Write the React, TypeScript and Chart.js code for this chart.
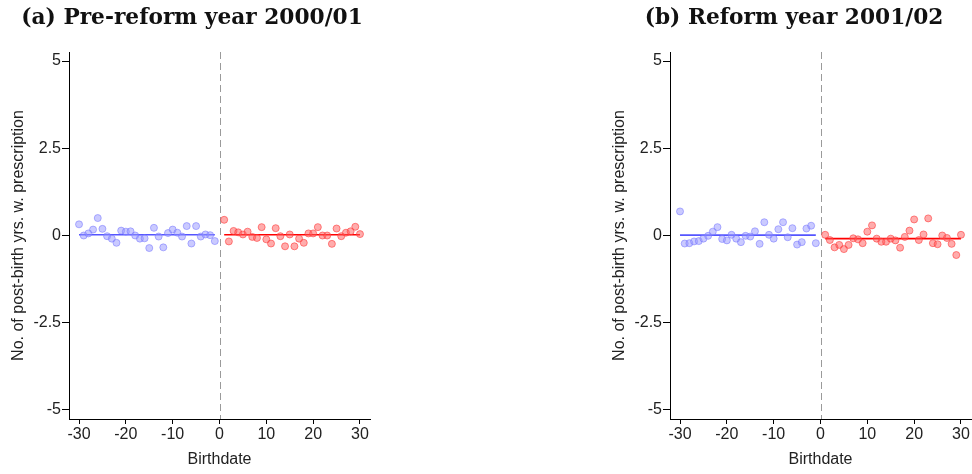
import React, { useEffect, useRef } from "react";
import { Chart, registerables } from "chart.js";

Chart.register(...registerables);

// ---------- data ----------
const birthdatesBefore = [
  -30, -29, -28, -27, -26, -25, -24, -23, -22, -21, -20, -19, -18, -17, -16,
  -15, -14, -13, -12, -11, -10, -9, -8, -7, -6, -5, -4, -3, -2, -1,
];
const birthdatesAfter = [
  1, 2, 3, 4, 5, 6, 7, 8, 9, 10, 11, 12, 13, 14, 15, 16, 17, 18, 19, 20, 21,
  22, 23, 24, 25, 26, 27, 28, 29, 30,
];

const preReformBefore = [
  0.32, 0.0, 0.06, 0.17, 0.5, 0.19, -0.02, -0.09, -0.21, 0.14, 0.11, 0.12, 0.0,
  -0.09, -0.08, -0.36, 0.22, -0.03, -0.34, 0.07, 0.17, 0.08, -0.03, 0.27, -0.23,
  0.27, -0.03, 0.03, 0.01, -0.16,
];
const preReformAfter = [
  0.45, -0.17, 0.13, 0.09, 0.03, 0.11, -0.04, -0.07, 0.24, -0.11, -0.23, 0.21,
  -0.02, -0.31, 0.03, -0.31, -0.09, -0.21, 0.06, 0.06, 0.24, 0.0, 0.0, -0.24,
  0.2, -0.02, 0.08, 0.12, 0.25, 0.04,
];
const reformBefore = [
  0.69, -0.23, -0.22, -0.17, -0.16, -0.09, -0.01, 0.11, 0.24, -0.1, -0.14, 0.02,
  -0.09, -0.19, -0.01, -0.03, 0.12, -0.24, 0.38, 0.02, -0.09, 0.18, 0.38, -0.05,
  0.21, -0.26, -0.19, 0.2, 0.28, -0.22,
];
const reformAfter = [
  0.02, -0.13, -0.34, -0.27, -0.39, -0.27, -0.08, -0.11, -0.22, 0.11, 0.29,
  -0.09, -0.18, -0.18, -0.09, -0.14, -0.35, -0.04, 0.14, 0.46, -0.13, 0.03,
  0.49, -0.22, -0.25, 0.0, -0.07, -0.24, -0.56, 0.02,
];

// fitted lines (endpoints)
const fitXBefore = [-30, -1];
const fitXAfter = [1, 30];
const preFitBefore = [0.02, 0.02];
const preFitAfter = [0.02, 0.02];
const reformFitBefore = [0.01, 0.01];
const reformFitAfter = [-0.09, -0.09];

const cutoff = 0;
const xTicks = [-30, -20, -10, 0, 10, 20, 30];
const yTicks = [-5, -2.5, 0, 2.5, 5];
const xRange = [-32.14, 32.14];
const yRange = [-5.26, 5.26];

const titles = ["(a) Pre-reform year 2000/01", "(b) Reform year 2001/02"];
const xTitle = "Birthdate";
const yTitle = "No. of post-birth yrs. w. prescription";

// ---------- chart ----------
const SANS = "'Liberation Sans', Arial, Helvetica, sans-serif";

const cutoffPlugin = {
  id: "cutoffLine",
  beforeDatasetsDraw(chart: any) {
    const { ctx, chartArea, scales } = chart;
    const x = Math.round(scales.x.getPixelForValue(cutoff)) + 0.5;
    ctx.save();
    ctx.strokeStyle = "#9a9a9a";
    ctx.lineWidth = 1;
    ctx.setLineDash([7, 4]);
    ctx.beginPath();
    ctx.moveTo(x, chartArea.top);
    ctx.lineTo(x, chartArea.bottom);
    ctx.stroke();
    ctx.restore();
  },
};

const panelTitlePlugin = {
  id: "panelTitle",
  afterDraw(chart: any, _args: any, opts: any) {
    const { ctx } = chart;
    ctx.save();
    ctx.font = "bold 21.7px 'DejaVu Serif', serif";
    ctx.fillStyle = "#111";
    ctx.textAlign = "center";
    ctx.textBaseline = "alphabetic";
    ctx.fillText(opts.text, opts.centerX, opts.baseline);
    ctx.restore();
  },
};

const zip = (xs: number[], ys: number[]) => xs.map((x, i) => ({ x, y: ys[i] }));

type PanelProps = {
  left: number;
  width: number;
  padRight: number;
  titleCenter: number;
  title: string;
  before: number[];
  after: number[];
  fitBefore: number[];
  fitAfter: number[];
};

function Panel(p: PanelProps) {
  const ref = useRef<HTMLCanvasElement | null>(null);
  useEffect(() => {
    if (!ref.current) return;
    const chart = new Chart(ref.current, {
      type: "scatter",
      data: {
        datasets: [
          {
            type: "scatter",
            data: zip(birthdatesBefore, p.before),
            backgroundColor: "rgba(150,150,255,0.5)",
            borderColor: "rgba(120,120,255,0.55)",
            borderWidth: 1,
            pointRadius: 3.5,
          },
          {
            type: "scatter",
            data: zip(birthdatesAfter, p.after),
            backgroundColor: "rgba(255,90,90,0.5)",
            borderColor: "rgba(255,60,60,0.6)",
            borderWidth: 1,
            pointRadius: 3.5,
          },
          {
            type: "line",
            data: zip(fitXBefore, p.fitBefore),
            borderColor: "#5555ff",
            borderWidth: 1.6,
            pointRadius: 0,
            fill: false,
          },
          {
            type: "line",
            data: zip(fitXAfter, p.fitAfter),
            borderColor: "#ff0000",
            borderWidth: 1.6,
            pointRadius: 0,
            fill: false,
          },
        ] as any,
      },
      options: {
        animation: false,
        responsive: false,
        devicePixelRatio: 1,
        layout: { padding: { left: 0, right: p.padRight, top: 52, bottom: 0 } },
        plugins: {
          legend: { display: false },
          tooltip: { enabled: false },
          title: { display: false },
          panelTitle: { text: p.title, centerX: p.titleCenter, baseline: 24 },
        },
        scales: {
          x: {
            type: "linear",
            min: xRange[0],
            max: xRange[1],
            afterBuildTicks: (s: any) => {
              s.ticks = xTicks.map((v) => ({ value: v }));
            },
            afterFit: (s: any) => {
              s.height = 55;
            },
            ticks: {
              color: "#222",
              font: { family: SANS, size: 16 },
              padding: 1,
              maxRotation: 0,
              autoSkip: false,
              callback: (v: any) => String(v),
            },
            grid: {
              display: true,
              drawOnChartArea: false,
              drawTicks: true,
              tickLength: 5,
              color: "#000",
            },
            border: { display: true, color: "#000", width: 1 },
            title: {
              display: true,
              text: xTitle,
              color: "#222",
              font: { family: SANS, size: 16 },
              padding: { top: 0, bottom: 5 },
            },
          },
          y: {
            type: "linear",
            min: yRange[0],
            max: yRange[1],
            afterBuildTicks: (s: any) => {
              s.ticks = yTicks.map((v) => ({ value: v }));
            },
            afterFit: (s: any) => {
              s.width = 69;
            },
            ticks: {
              color: "#222",
              font: { family: SANS, size: 16 },
              padding: 1,
              autoSkip: false,
              callback: (v: any) => String(v),
            },
            grid: {
              display: true,
              drawOnChartArea: false,
              drawTicks: true,
              tickLength: 7,
              color: "#000",
            },
            border: { display: true, color: "#000", width: 1 },
            title: {
              display: true,
              text: yTitle,
              color: "#222",
              font: { family: SANS, size: 16 },
              padding: { top: 9, bottom: 0 },
            },
          },
        },
      } as any,
      plugins: [cutoffPlugin, panelTitlePlugin],
    });
    return () => chart.destroy();
  }, []);
  return (
    <div style={{ position: "absolute", left: p.left, top: 0, width: p.width, height: 474 }}>
      <canvas ref={ref} width={p.width} height={474} style={{ display: "block" }} />
    </div>
  );
}

export default function App() {
  return (
    <div
      style={{
        position: "fixed",
        left: 0,
        top: 0,
        width: 972,
        height: 474,
        overflow: "hidden",
        background: "#fff",
      }}
    >
      <Panel
        left={0}
        width={384}
        padRight={14}
        titleCenter={192}
        title={titles[0]}
        before={preReformBefore}
        after={preReformAfter}
        fitBefore={preFitBefore}
        fitAfter={preFitAfter}
      />
      <Panel
        left={601}
        width={386}
        padRight={16}
        titleCenter={193}
        title={titles[1]}
        before={reformBefore}
        after={reformAfter}
        fitBefore={reformFitBefore}
        fitAfter={reformFitAfter}
      />
    </div>
  );
}
